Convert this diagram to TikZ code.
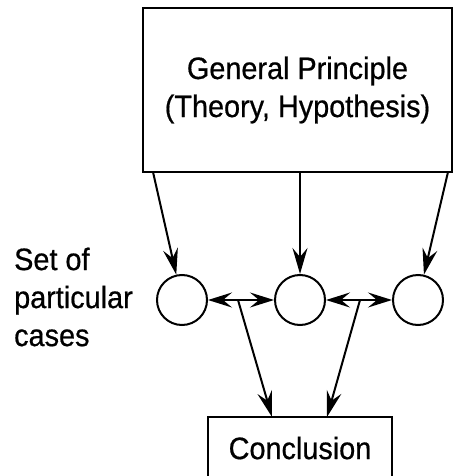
\documentclass[tikz,border=0pt]{standalone}
\usepackage{fontspec}
\setmainfont[FakeStretch=0.93,FakeBold=0.6]{Liberation Sans}
\usetikzlibrary{arrows.meta}
\begin{document}
\begin{tikzpicture}[x=1pt,y=-1pt,
  every node/.style={font=\fontsize{31}{38}\selectfont},
  box/.style={draw,line width=2pt,rectangle,inner sep=0pt},
  case/.style={draw,line width=2pt,circle,minimum size=50pt,inner sep=0pt},
  arr/.style={line width=2pt,-{Stealth[length=26pt,width=15pt,inset=9pt]}},
  darr/.style={line width=2pt,{Stealth[length=24pt,width=15pt,inset=9pt]}-{Stealth[length=24pt,width=15pt,inset=9pt]}}]
\useasboundingbox (0,0) rectangle (453,476);
\node[box,minimum width=309pt,minimum height=164pt,align=center] (top) at (297.5,90)
  {General Principle\\(Theory, Hypothesis)};
\node[case] (c1) at (182,300) {};
\node[case] (c2) at (300,300) {};
\node[case] (c3) at (418,300) {};
\node[box,minimum width=184pt,minimum height=62pt] (concl) at (300,448) {Conclusion};
\node[align=left,anchor=west,inner sep=0pt] (lbl) at (14,297) {Set of\\particular\\cases};
\coordinate (t1) at (153,172);
\coordinate (t2) at (300,172);
\coordinate (t3) at (448,172);
\coordinate (m1) at (238,300);
\coordinate (m2) at (360,300);
\coordinate (k1) at (272,417);
\coordinate (k2) at (327,417);
\draw[arr] (t1) -- (c1);
\draw[arr] (t2) -- (c2);
\draw[arr] (t3) -- (c3);
\draw[darr] (c1) -- (c2);
\draw[darr] (c2) -- (c3);
\draw[arr] (m1) -- (k1);
\draw[arr] (m2) -- (k2);
\end{tikzpicture}
\end{document}
